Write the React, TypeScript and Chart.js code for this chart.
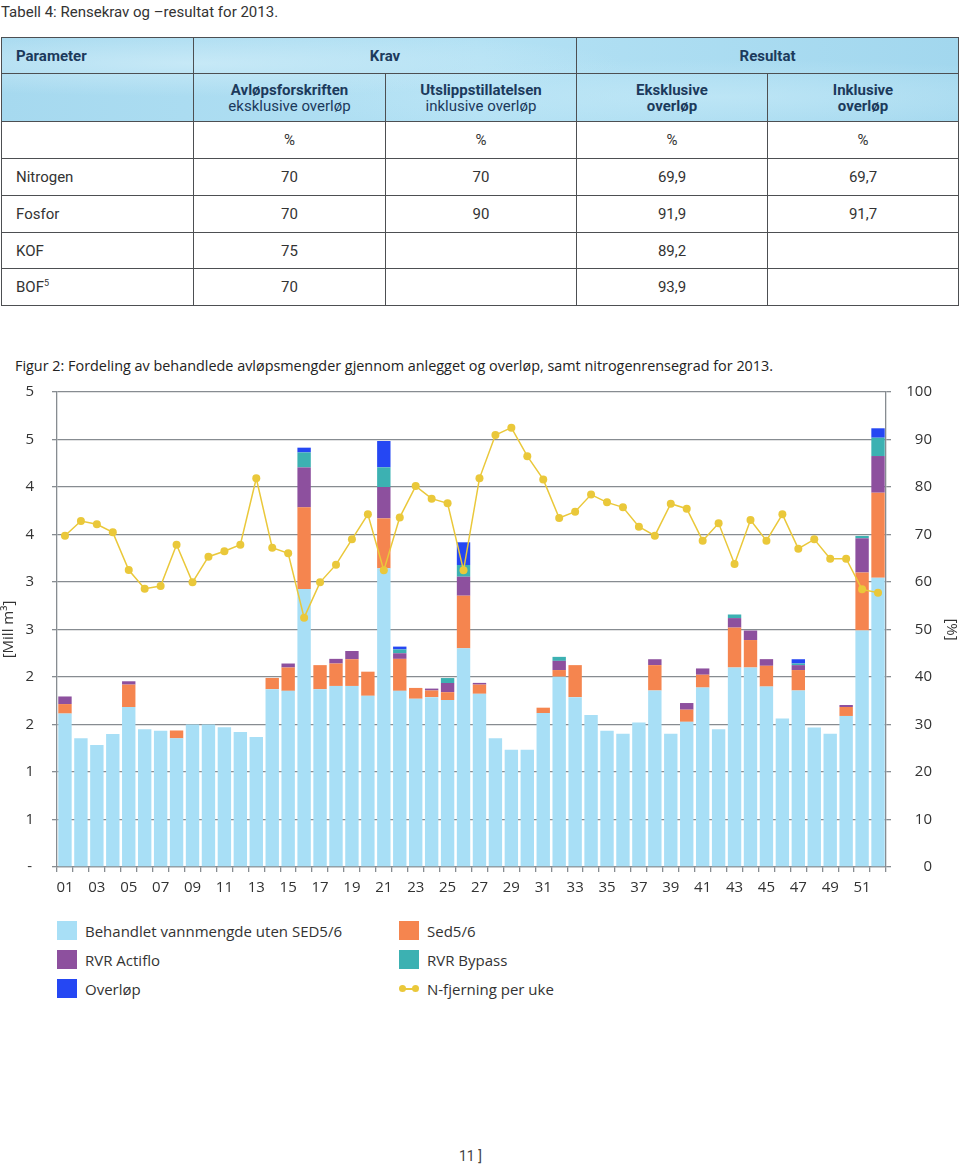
import React, { useEffect, useRef } from "react";
import { Chart, registerables } from "chart.js";

Chart.register(...registerables);

// ---------- DATA ----------
const weeks = ["01","02","03","04","05","06","07","08","09","10","11","12","13","14","15","16","17","18","19","20","21","22","23","24","25","26","27","28","29","30","31","32","33","34","35","36","37","38","39","40","41","42","43","44","45","46","47","48","49","50","51","52"];

const behandlet = [1.615,1.354,1.285,1.40,1.684,1.451,1.434,1.354,1.50,1.50,1.472,1.42,1.368,1.872,1.854,2.926,1.872,1.906,1.906,1.802,3.144,1.854,1.771,1.788,1.757,2.302,1.823,1.354,1.233,1.233,1.62,2.003,1.788,1.60,1.434,1.403,1.521,1.858,1.403,1.528,1.889,1.451,2.10,2.10,1.899,1.5625,1.858,1.469,1.403,1.59,2.49,3.046];
const sed56 = [0.10,0,0,0,0.236,0,0,0.083,0,0,0,0,0,0.118,0.246,0.86,0.253,0.236,0.281,0.254,0.526,0.337,0.114,0.07,0.083,0.554,0.097,0,0,0,0.057,0.07,0.337,0,0,0,0,0.267,0,0.128,0.135,0,0.42,0.289,0.219,0,0.215,0,0,0.094,0.61,0.894];
const actiflo = [0.08,0,0,0,0.035,0,0,0,0,0,0,0,0,0,0.042,0.42,0,0.049,0.087,0,0.33,0.059,0,0.02,0.097,0.2,0.018,0,0,0,0,0.097,0,0,0,0,0,0.062,0,0.07,0.066,0,0.1,0.1,0.07,0,0.052,0,0,0.021,0.36,0.386];
const bypass = [0,0,0,0,0,0,0,0,0,0,0,0,0,0,0,0.158,0,0,0,0,0.207,0.04,0,0,0.052,0.123,0,0,0,0,0,0.042,0,0,0,0,0,0,0,0,0,0,0.038,0,0,0,0.017,0,0,0,0.025,0.193];
const overlop = [0,0,0,0,0,0,0,0,0,0,0,0,0,0,0,0.05,0,0,0,0,0.277,0.03,0,0,0,0.239,0,0,0,0,0,0,0,0,0,0,0,0,0,0,0,0,0,0,0,0,0.045,0,0,0,0,0.099];
const nFjerning = [69.75,72.84,72.14,70.45,62.53,58.6,59.16,67.86,59.93,65.33,66.46,67.86,81.82,67.23,66.04,52.5,59.93,63.65,68.98,74.25,62.45,73.6,80.2,77.54,76.56,62.45,81.82,90.95,92.49,86.5,81.6,73.47,74.81,78.4,76.77,75.72,71.65,69.75,76.49,75.44,68.7,72.35,63.79,73.05,68.7,74.25,67.02,68.98,64.9,64.9,58.45,57.75];

const leftTickLabels = ["-","1","1","2","2","3","3","4","4","5","5"];

const tableParams = ["Nitrogen", "Fosfor", "KOF", "BOF"];
const tableAvlop = ["70", "70", "75", "70"];
const tableUtslipp = ["70", "90", "", ""];
const tableEksk = ["69,9", "91,9", "89,2", "93,9"];
const tableInkl = ["69,7", "91,7", "", ""];

const COLORS = {
  behandlet: "#a8dff6",
  sed: "#f5854f",
  actiflo: "#8d509e",
  bypass: "#3cb1b2",
  overlop: "#2547f3",
  line: "#eac83a",
  grid: "#878c91",
  text: "#333333",
  navy: "#1c3a5c",
};

const CHART_FONT = "'Open Sans', sans-serif";
const TABLE_FONT = "Roboto, sans-serif";

const rightTitlePlugin = {
  id: "rightTitle",
  afterDraw(chart: any) {
    const { ctx, chartArea } = chart;
    ctx.save();
    ctx.translate(951, (chartArea.top + chartArea.bottom) / 2);
    ctx.rotate(Math.PI / 2);
    ctx.font = `15px ${CHART_FONT}`;
    ctx.fillStyle = COLORS.text;
    ctx.textAlign = "center";
    ctx.textBaseline = "middle";
    ctx.fillText("[%]", 0, 0);
    ctx.restore();
  },
};

function ComboChart() {
  const ref = useRef<HTMLCanvasElement>(null);
  useEffect(() => {
    if (!ref.current) return;
    const font = { family: CHART_FONT, size: 15 };
    const barCommon = {
      type: "bar" as const,
      yAxisID: "y",
      stack: "s",
      order: 1,
      barPercentage: 0.84,
      categoryPercentage: 1,
      borderWidth: 0,
    };
    const chart = new Chart(ref.current, {
      type: "bar",
      data: {
        labels: weeks,
        datasets: [
          { ...barCommon, label: "Behandlet vannmengde uten SED5/6", data: behandlet, backgroundColor: COLORS.behandlet },
          { ...barCommon, label: "Sed5/6", data: sed56, backgroundColor: COLORS.sed },
          { ...barCommon, label: "RVR Actiflo", data: actiflo, backgroundColor: COLORS.actiflo },
          { ...barCommon, label: "RVR Bypass", data: bypass, backgroundColor: COLORS.bypass },
          { ...barCommon, label: "Overløp", data: overlop, backgroundColor: COLORS.overlop },
          {
            type: "line" as const,
            label: "N-fjerning per uke",
            data: nFjerning,
            yAxisID: "y1",
            order: 0,
            borderColor: COLORS.line,
            backgroundColor: COLORS.line,
            borderWidth: 1.5,
            pointRadius: 4,
            pointBorderWidth: 0,
            pointBackgroundColor: COLORS.line,
            tension: 0,
          } as any,
        ],
      },
      options: {
        animation: false,
        responsive: false,
        maintainAspectRatio: false,
        layout: { padding: { top: 12, right: 28, bottom: 0, left: 0 } },
        plugins: { legend: { display: false }, tooltip: { enabled: false } },
        scales: {
          x: {
            stacked: true,
            offset: true,
            grid: { drawOnChartArea: false, offset: true, tickLength: 5, color: COLORS.grid, lineWidth: 1.3 },
            border: { color: COLORS.grid, width: 1.3 },
            ticks: {
              autoSkip: false,
              maxRotation: 0,
              minRotation: 0,
              padding: 7,
              font,
              color: COLORS.text,
              callback: (_v: any, i: number) => (i % 2 === 0 ? weeks[i] : ""),
            },
            afterFit: (s: any) => { s.height = 38; },
          },
          y: {
            stacked: true,
            position: "left",
            min: 0,
            max: 5,
            grid: { color: COLORS.grid, lineWidth: 1.3, tickLength: 5 },
            border: { color: COLORS.grid, width: 1.3 },
            ticks: {
              stepSize: 0.5,
              padding: 18,
              crossAlign: "center",
              font,
              color: COLORS.text,
              callback: (_v: any, i: number) => leftTickLabels[i],
            },
            title: { display: true, text: "[Mill m³]", padding: 0, font, color: COLORS.text },
            afterFit: (s: any) => {
              s.width = 57;
              s.paddingTop = 10;
              s.paddingBottom = 10;
            },
          },
          y1: {
            position: "right",
            min: 0,
            max: 100,
            grid: { drawOnChartArea: false, color: COLORS.grid, lineWidth: 1.3, tickLength: 5 },
            border: { color: COLORS.grid, width: 1.3 },
            ticks: { stepSize: 10, crossAlign: "far", font, color: COLORS.text },
            afterFit: (s: any) => {
              s.width = 46;
              s.paddingTop = 10;
              s.paddingBottom = 10;
            },
          },
        },
      },
      plugins: [rightTitlePlugin],
    } as any);
    return () => chart.destroy();
  }, []);
  return <canvas ref={ref} width={960} height={525} style={{ display: "block" }} />;
}

const headerBg =
  "radial-gradient(ellipse at 20% 30%, rgba(210,238,249,0.7), rgba(210,238,249,0) 40%), radial-gradient(ellipse at 75% 70%, rgba(200,235,248,0.6), rgba(200,235,248,0) 45%), linear-gradient(90deg, #a6d9ef, #b3e1f4 50%, #a2d7ee)";

const border = "1.5px solid #4d4f52";

function Table() {
  const th: React.CSSProperties = {
    border,
    color: COLORS.navy,
    fontWeight: 700,
    fontSize: 15,
    textAlign: "center",
    padding: 0,
    lineHeight: "16px",
  };
  const td: React.CSSProperties = {
    border,
    color: COLORS.text,
    fontSize: 15,
    textAlign: "center",
    padding: 0,
  };
  const bodyHeights = [37, 37, 37, 36, 37];
  return (
    <table
      style={{
        position: "absolute",
        top: 37,
        left: 1,
        width: 957,
        borderCollapse: "collapse",
        tableLayout: "fixed",
        fontFamily: TABLE_FONT,
      }}
    >
      <colgroup>
        <col style={{ width: 192 }} />
        <col style={{ width: 192 }} />
        <col style={{ width: 191 }} />
        <col style={{ width: 191 }} />
        <col style={{ width: 191 }} />
      </colgroup>
      <thead style={{ background: headerBg }}>
        <tr style={{ height: 36 }}>
          <th style={{ ...th, textAlign: "left", paddingLeft: 14 }}>Parameter</th>
          <th style={th} colSpan={2}>Krav</th>
          <th style={th} colSpan={2}>Resultat</th>
        </tr>
        <tr style={{ height: 48 }}>
          <th style={th}></th>
          <th style={th}>
            Avløpsforskriften<br />
            <span style={{ fontWeight: 400 }}>eksklusive overløp</span>
          </th>
          <th style={th}>
            Utslippstillatelsen<br />
            <span style={{ fontWeight: 400 }}>inklusive overløp</span>
          </th>
          <th style={th}>Eksklusive<br />overløp</th>
          <th style={th}>Inklusive<br />overløp</th>
        </tr>
      </thead>
      <tbody>
        <tr style={{ height: bodyHeights[0] }}>
          <td style={td}></td>
          <td style={td}>%</td>
          <td style={td}>%</td>
          <td style={td}>%</td>
          <td style={td}>%</td>
        </tr>
        {tableParams.map((p, i) => (
          <tr key={p} style={{ height: bodyHeights[i + 1] }}>
            <td style={{ ...td, textAlign: "left", paddingLeft: 14 }}>
              {p}
              {p === "BOF" ? <sup style={{ fontSize: 9 }}>5</sup> : null}
            </td>
            <td style={td}>{tableAvlop[i]}</td>
            <td style={td}>{tableUtslipp[i]}</td>
            <td style={td}>{tableEksk[i]}</td>
            <td style={td}>{tableInkl[i]}</td>
          </tr>
        ))}
      </tbody>
    </table>
  );
}

const legendItems = [
  { label: "Behandlet vannmengde uten SED5/6", color: COLORS.behandlet, x: 57, y: 921 },
  { label: "Sed5/6", color: COLORS.sed, x: 399, y: 921 },
  { label: "RVR Actiflo", color: COLORS.actiflo, x: 57, y: 950 },
  { label: "RVR Bypass", color: COLORS.bypass, x: 399, y: 950 },
  { label: "Overløp", color: COLORS.overlop, x: 57, y: 979 },
];

function Legend() {
  return (
    <>
      {legendItems.map((it) => (
        <div key={it.label} style={{ position: "absolute", left: it.x, top: it.y, height: 19, display: "flex", alignItems: "center" }}>
          <div style={{ width: 20, height: 19, background: it.color }} />
          <span style={{ marginLeft: 8, fontFamily: CHART_FONT, fontSize: 15, color: COLORS.text, whiteSpace: "nowrap" }}>{it.label}</span>
        </div>
      ))}
      <div style={{ position: "absolute", left: 399, top: 979, height: 19, display: "flex", alignItems: "center" }}>
        <div style={{ position: "relative", width: 20, height: 19 }}>
          <div style={{ position: "absolute", left: 3, right: 3, top: 9, height: 1.5, background: COLORS.line }} />
          <div style={{ position: "absolute", left: 0, top: 6, width: 7, height: 7, borderRadius: "50%", background: COLORS.line }} />
          <div style={{ position: "absolute", right: 0, top: 6, width: 7, height: 7, borderRadius: "50%", background: COLORS.line }} />
        </div>
        <span style={{ marginLeft: 8, fontFamily: CHART_FONT, fontSize: 15, color: COLORS.text, whiteSpace: "nowrap" }}>N-fjerning per uke</span>
      </div>
    </>
  );
}

export default function App() {
  return (
    <div style={{ position: "absolute", left: 0, top: 0, width: 960, height: 1166, background: "#fff", overflow: "hidden" }}>
      <div style={{ position: "absolute", left: 1, top: 3, fontFamily: TABLE_FONT, fontSize: 15, color: COLORS.text, whiteSpace: "nowrap" }}>
        Tabell 4: Rensekrav og –resultat for 2013.
      </div>
      <Table />
      <div style={{ position: "absolute", left: 15, top: 356, fontFamily: CHART_FONT, fontSize: 14.4, color: "#222", whiteSpace: "nowrap" }}>
        Figur 2: Fordeling av behandlede avløpsmengder gjennom anlegget og overløp, samt nitrogenrensegrad for 2013.
      </div>
      <div style={{ position: "absolute", left: 0, top: 380, width: 960, height: 525 }}>
        <ComboChart />
      </div>
      <Legend />
      <div style={{ position: "absolute", left: 459, top: 1148, fontFamily: TABLE_FONT, fontSize: 14, color: "#444", whiteSpace: "nowrap" }}>
        11 ]
      </div>
    </div>
  );
}
